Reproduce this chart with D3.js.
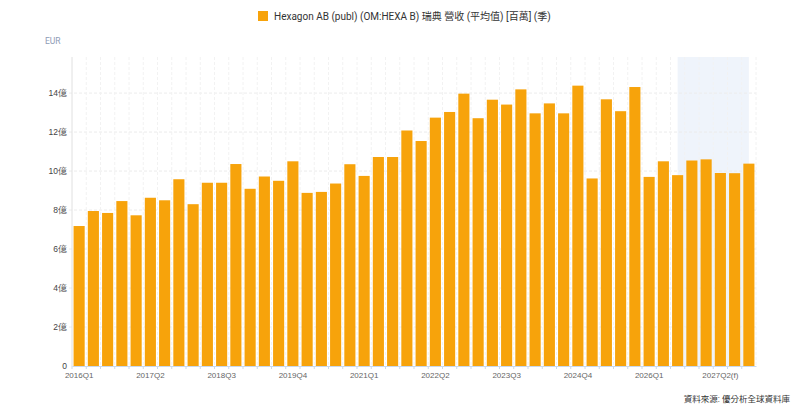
<!DOCTYPE html>
<html>
<head>
<meta charset="utf-8">
<script src="https://cdn.jsdelivr.net/npm/d3@7"></script>
<style>
  body { margin: 0; background: #fff; }
  svg { font-family: Roboto, "Noto Sans CJK TC", sans-serif; }
</style>
</head>
<body>
<div id="chart"></div>
<script>
// 季度類別
const quarters = [
  "2016Q1","2016Q2","2016Q3","2016Q4","2017Q1","2017Q2","2017Q3","2017Q4",
  "2018Q1","2018Q2","2018Q3","2018Q4","2019Q1","2019Q2","2019Q3","2019Q4",
  "2020Q1","2020Q2","2020Q3","2020Q4","2021Q1","2021Q2","2021Q3","2021Q4",
  "2022Q1","2022Q2","2022Q3","2022Q4","2023Q1","2023Q2","2023Q3","2023Q4",
  "2024Q1","2024Q2","2024Q3","2024Q4","2025Q1","2025Q2","2025Q3","2025Q4",
  "2026Q1","2026Q2","2026Q3","2026Q4","2027Q1","2027Q2","2027Q3","2027Q4"
];
// 營收 (億 EUR)
const revenue = [
  7.18, 7.95, 7.85, 8.46, 7.73, 8.63, 8.5, 9.58,
  8.3, 9.4, 9.4, 10.36, 9.09, 9.72, 9.5, 10.5,
  8.88, 8.93, 9.36, 10.35, 9.75, 10.72, 10.72, 12.08,
  11.54, 12.74, 13.03, 13.97, 12.71, 13.66, 13.41, 14.19,
  12.96, 13.47, 12.96, 14.38, 9.62, 13.68, 13.07, 14.31,
  9.7, 10.5, 9.79, 10.54, 10.6, 9.9, 9.89, 10.38
];
const forecastFrom = "2026Q3";   // 陰影區起點
const forecastTo = "2027Q4";
const labelQuarters = ["2016Q1","2017Q2","2018Q3","2019Q4","2021Q1","2022Q2","2023Q3","2024Q4","2026Q1","2027Q2"];
const forecastLabels = ["2027Q2"];
const yTicks = [0, 2, 4, 6, 8, 10, 12, 14];

const width = 800, height = 413;
const margin = { top: 57, right: 44, bottom: 47, left: 72 };
const innerW = width - margin.left - margin.right;
const innerH = height - margin.top - margin.bottom;

const svg = d3.select('#chart').append('svg')
    .attr('width', width)
    .attr('height', height);

const g = svg.append('g')
    .attr('transform', `translate(${margin.left}, ${margin.top})`);

const x = d3.scaleBand()
    .domain(quarters)
    .range([0, innerW])
    .paddingInner(0.22)
    .paddingOuter(0.11);
const step = x.step();
const y = d3.scaleLinear()
    .domain([0, 15.85])
    .range([innerH, 0]);

// 預測陰影
g.append('rect')
    .attr('x', x(forecastFrom) + x.bandwidth() / 2)
    .attr('y', 0)
    .attr('width', x(forecastTo) - x(forecastFrom))
    .attr('height', innerH)
    .attr('fill', '#eff4fb');

// 網格線
g.append('g')
    .selectAll('line')
    .data(yTicks.filter(d => d > 0))
    .enter().append('line')
    .attr('x1', -3).attr('x2', innerW)
    .attr('y1', d => y(d)).attr('y2', d => y(d))
    .attr('stroke', '#ececec')
    .attr('stroke-dasharray', '3,2');

g.append('g')
    .selectAll('line')
    .data(quarters.slice(1).concat(['end']))
    .enter().append('line')
    .attr('x1', (d, i) => x(quarters[0]) - x.paddingInner() * step / 2 + (i + 1) * step)
    .attr('x2', (d, i) => x(quarters[0]) - x.paddingInner() * step / 2 + (i + 1) * step)
    .attr('y1', 0).attr('y2', innerH)
    .attr('stroke', '#f2f2f2')
    .attr('stroke-dasharray', '3,2');

// y 軸線
g.append('line')
    .attr('x1', 0).attr('x2', 0)
    .attr('y1', 0).attr('y2', innerH)
    .attr('stroke', '#e0e0e0');

// 長條
g.selectAll('.bar')
    .data(quarters)
    .enter().append('rect')
    .attr('class', 'bar')
    .attr('x', d => x(d))
    .attr('y', (d, i) => y(revenue[i]))
    .attr('width', x.bandwidth())
    .attr('height', (d, i) => innerH - y(revenue[i]))
    .attr('fill', '#f7a30b');

// x 軸
const xAxis = g.append('g')
    .attr('transform', `translate(0, ${innerH})`)
    .call(d3.axisBottom(x)
        .tickValues(labelQuarters)
        .tickSize(0)
        .tickPadding(6)
        .tickFormat(d => forecastLabels.includes(d) ? d + '(f)' : d));
xAxis.select('.domain').attr('stroke', '#c9d9ee');
xAxis.selectAll('text')
    .attr('fill', '#666')
    .style('font-size', '8px');

g.append('g')
    .selectAll('line')
    .data(quarters)
    .enter().append('line')
    .attr('x1', d => x(d) - x.paddingInner() * step / 2)
    .attr('x2', d => x(d) - x.paddingInner() * step / 2)
    .attr('y1', innerH).attr('y2', innerH + 3)
    .attr('stroke', '#c9d9ee');

// y 軸
const yAxis = g.append('g')
    .call(d3.axisLeft(y)
        .tickValues(yTicks)
        .tickSize(0)
        .tickPadding(5)
        .tickFormat(d => d === 0 ? '0' : d + '億'));
yAxis.select('.domain').remove();
yAxis.selectAll('text')
    .attr('fill', '#444')
    .style('font-size', '8.5px');

// 單位
svg.append('text')
    .attr('x', 45).attr('y', 44)
    .attr('fill', '#8e9bb5')
    .style('font-size', '8.5px')
    .text('EUR');

// 圖例
const legend = svg.append('g').attr('transform', 'translate(258, 11)');
legend.append('rect')
    .attr('width', 10).attr('height', 10)
    .attr('fill', '#f7a30b');
legend.append('text')
    .attr('x', 16).attr('y', 9)
    .attr('fill', '#333')
    .style('font-size', '10px')
    .text('Hexagon AB (publ) (OM:HEXA B) 瑞典 營收 (平均值) [百萬] (季)');

// 資料來源
svg.append('text')
    .attr('x', 790).attr('y', 402)
    .attr('text-anchor', 'end')
    .attr('fill', '#333')
    .style('font-size', '8.5px')
    .text('資料來源: 優分析全球資料庫');
</script>
</body>
</html>
